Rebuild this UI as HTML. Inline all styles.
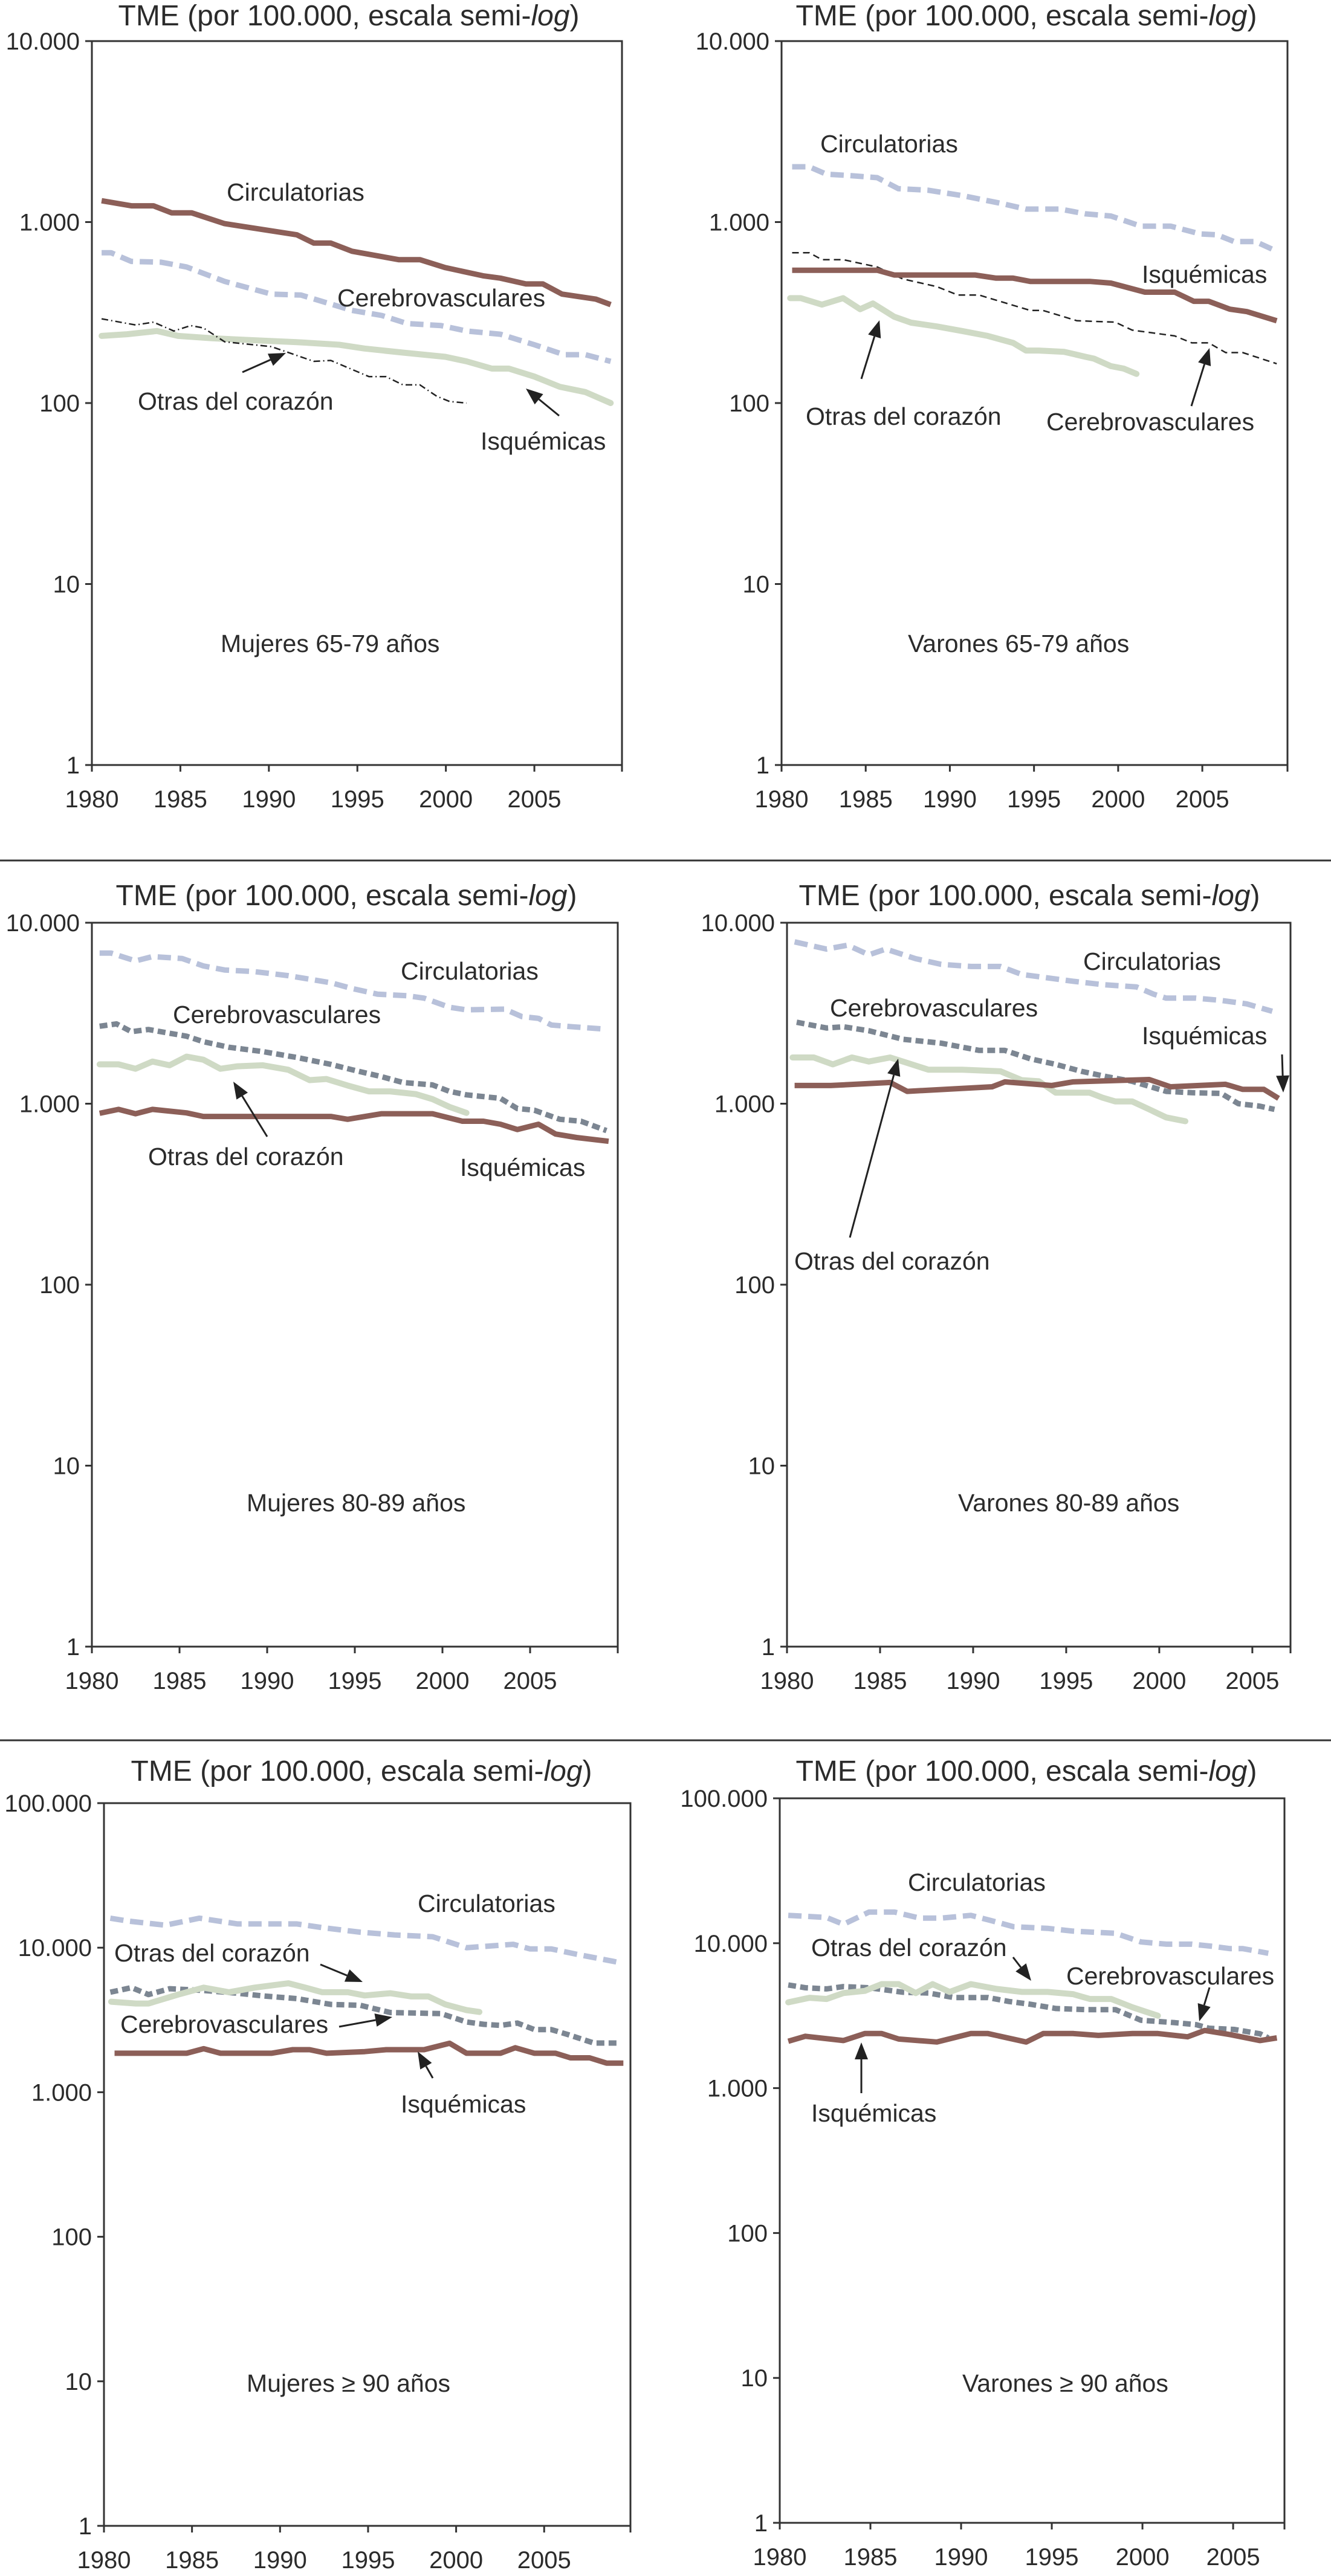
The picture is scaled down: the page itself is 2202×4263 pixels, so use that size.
<!DOCTYPE html>
<html><head><meta charset="utf-8"><style>
html,body{margin:0;padding:0;background:#fff;}
svg{display:block;}
text{font-family:"Liberation Sans",sans-serif;fill:#2b2b2b;}
</style></head><body>
<svg id="fig" width="2202" height="4263" viewBox="0 0 2202 4263" xmlns="http://www.w3.org/2000/svg">
<defs><marker id="ah" viewBox="0 0 10 10" refX="9" refY="5" markerWidth="7" markerHeight="7" orient="auto" markerUnits="userSpaceOnUse"></marker></defs>
<line x1="0" y1="1424" x2="2202" y2="1424" stroke="#333" stroke-width="3"/>
<line x1="0" y1="2880" x2="2202" y2="2880" stroke="#333" stroke-width="3"/>
</svg>
<script>
// ---- Data (years and rates per 100.000) ----
// Panel A: Mujeres 65-79
const aCircYears=[1980.55,1982.23,1983.48,1984.5,1985.63,1987.5,1991.58,1992.54,1993.5,1994.7,1997.33,1998.53,1999.97,2002.1,2003.08,2004.52,2005.48,2006.56,2008.48,2009.31];
const aCircVals=[1312,1230,1230,1125,1125,980,850,765,765,690,620,620,560,505,490,455,455,400,375,350];
const aCereYears=[1980.55,1981.08,1982.23,1983.91,1985.35,1987.5,1990.14,1991.82,1994.69,1996.37,1997.81,1999.73,2001.17,2003.08,2005.0,2006.68,2007.88,2009.31];
const aCereVals=[677,677,606,600,565,470,400,395,325,305,275,268,250,240,210,185,185,170];
const aIsqYears=[1980.55,1981.99,1983.67,1984.87,1986.78,1990.14,1991.58,1993.97,1995.41,1997.57,1999.97,2001.17,2002.6,2003.56,2005.0,2006.44,2007.88,2009.31];
const aIsqVals=[235,240,250,235,228,220,217,210,200,190,180,170,155,155,140,123,115,100];
const aOtrasYears=[1980.55,1982.47,1983.48,1984.63,1985.58,1986.3,1987.5,1990.14,1992.54,1993.5,1995.65,1996.61,1997.57,1998.53,1999.49,2000.21,2001.17];
const aOtrasVals=[292,270,280,250,268,260,218,205,170,172,140,140,126,126,109,102,100];
// Panel B: Varones 65-79
const bCircYears=[1980.63,1981.64,1982.65,1983.91,1985.68,1986.94,1988.71,1990.73,1993.01,1994.52,1996.54,1998.06,1999.57,2001.34,2003.11,2004.87,2005.88,2006.89,2008.16,2009.42];
const bCircVals=[2020,2020,1840,1810,1760,1530,1500,1400,1270,1180,1180,1110,1080,950,950,860,850,780,780,690];
const bIsqYears=[1980.63,1985.68,1986.69,1991.49,1992.75,1993.76,1994.77,1998.31,1999.57,2001.59,2003.36,2004.49,2005.38,2006.64,2007.65,2009.42];
const bIsqVals=[542,542,510,510,490,490,470,470,460,410,410,365,365,330,320,285];
const bCereYears=[1980.63,1981.64,1982.4,1983.66,1985.68,1987.2,1989.22,1990.48,1991.74,1994.77,1995.53,1997.55,1999.82,2000.83,2003.36,2004.37,2005.38,2006.39,2007.4,2009.42];
const bCereVals=[677,677,620,620,565,485,440,395,395,325,325,285,280,253,235,215,215,190,190,165];
const bOtrasYears=[1980.51,1981.14,1982.4,1983.66,1984.67,1985.43,1986.69,1987.7,1989.22,1990.73,1992.25,1993.76,1994.52,1995.28,1996.79,1998.06,1998.56,1999.57,2000.33,2001.09];
const bOtrasVals=[380,380,350,380,330,355,300,278,265,250,235,215,195,195,192,180,176,160,155,145];
// Panel C: Mujeres 80-89
const cCircYears=[1980.44,1981.09,1982.49,1983.46,1985.15,1986.36,1987.57,1989.27,1991.2,1993.63,1994.84,1996.29,1997.98,1998.95,2000.4,2001.37,2003.55,2004.52,2005.48,2006.21,2007.42,2009.11];
const cCircVals=[6800,6800,6150,6500,6340,5770,5480,5370,5100,4660,4330,4030,3950,3830,3410,3300,3330,3030,2960,2720,2660,2590];
const cCereYears=[1980.44,1981.4,1982.25,1983.22,1985.4,1986.36,1987.82,1989.75,1991.69,1993.63,1994.84,1996.53,1997.74,1999.43,2000.4,2001.37,2003.31,2004.27,2005.24,2006.69,2007.9,2009.36];
const cCereVals=[2680,2760,2500,2570,2360,2200,2050,1940,1800,1650,1540,1410,1310,1270,1170,1120,1070,940,920,820,800,710];
const cOtrasYears=[1980.44,1981.52,1982.49,1983.46,1984.43,1985.4,1986.36,1987.33,1988.3,1989.75,1991.2,1992.42,1993.38,1994.59,1995.8,1997.01,1998.47,1999.43,2000.4,2001.37];
const cOtrasVals=[1650,1650,1560,1710,1630,1820,1750,1560,1610,1630,1540,1350,1370,1260,1170,1170,1130,1060,960,890];
const cIsqYears=[1980.44,1981.52,1982.49,1983.46,1985.4,1986.36,1993.63,1994.59,1996.53,1999.43,2001.13,2002.34,2003.31,2004.27,2005.48,2006.45,2007.66,2009.48];
const cIsqVals=[885,930,880,930,890,850,850,820,880,880,800,800,770,720,770,680,650,620];
// Panel D: Varones 80-89
const dCircYears=[1980.41,1982.12,1983.26,1984.4,1985.31,1986.91,1988.28,1989.88,1991.47,1992.61,1993.98,1995.35,1996.95,1998.77,1999.69,2000.37,2001.97,2003.33,2004.7,2006.07];
const dCircVals=[7840,7150,7510,6650,7150,6330,5890,5730,5730,5180,4960,4750,4550,4420,4030,3830,3830,3720,3560,3240];
const dCereYears=[1980.52,1982.12,1983.03,1984.4,1986.23,1988.28,1990.33,1991.7,1993.07,1994.44,1995.81,1997.18,1998.54,2000.37,2001.74,2003.33,2004.25,2005.39,2006.19];
const dCereVals=[2820,2620,2660,2530,2270,2160,1970,1970,1770,1650,1510,1410,1330,1170,1150,1140,1000,970,930];
const dOtrasYears=[1980.3,1981.44,1982.46,1983.49,1984.4,1985.54,1986.46,1987.6,1989.42,1991.47,1992.61,1993.53,1994.44,1996.26,1996.95,1997.63,1998.54,1999.46,2000.37,2001.4];
const dOtrasVals=[1800,1800,1650,1800,1710,1800,1680,1540,1540,1510,1350,1330,1150,1150,1080,1030,1030,930,840,800];
const dIsqYears=[1980.41,1982.35,1985.54,1986.46,1991.02,1991.7,1994.21,1995.35,1999.46,2000.6,2003.56,2004.48,2005.62,2006.41];
const dIsqVals=[1260,1260,1310,1170,1240,1320,1260,1320,1360,1240,1280,1200,1200,1070];
// Panel E: Mujeres >= 90
const eCircYears=[1980.36,1981.32,1983.49,1985.42,1987.59,1989.75,1990.96,1992.4,1994.57,1996.5,1998.67,1999.63,2000.59,2003.24,2004.2,2005.41,2006.85,2009.26];
const eCircVals=[16000,15300,14300,16000,14600,14600,14600,13760,12800,12250,11900,10900,10000,10550,9800,9800,9000,7900];
const eCereYears=[1980.36,1981.57,1982.53,1983.73,1985.66,1987.59,1989.03,1990.96,1992.89,1994.57,1996.26,1999.15,2000.59,2001.56,2002.52,2003.48,2004.45,2005.41,2006.37,2007.82,2009.26];
const eCereVals=[4920,5290,4740,5200,5060,4840,4640,4440,4050,3990,3560,3500,3060,2950,2900,3010,2710,2710,2500,2190,2190];
const eOtrasYears=[1980.41,1981.81,1982.53,1984.21,1985.66,1987.1,1988.55,1990.48,1991.44,1992.4,1993.85,1994.81,1996.26,1997.46,1998.42,1999.39,2000.59,2001.32];
const eOtrasVals=[4230,4110,4110,4740,5290,4920,5290,5670,5290,4920,4920,4670,4840,4600,4600,4050,3700,3590];
const eIsqYears=[1980.6,1984.7,1985.66,1986.62,1989.51,1990.72,1991.68,1992.64,1994.81,1996.02,1998.18,1999.63,2000.59,2002.52,2003.36,2004.45,2005.65,2006.49,2007.58,2008.54,2009.5];
const eIsqVals=[1860,1860,2000,1860,1860,1970,1970,1860,1910,1970,1970,2180,1860,1860,2030,1860,1860,1730,1730,1590,1590];
// Panel F: Varones >= 90
const fCircYears=[1980.47,1982.58,1983.51,1984.92,1986.33,1987.73,1988.9,1990.54,1991.72,1992.89,1994.76,1996.17,1998.51,1999.92,2001.32,2002.73,2003.9,2004.84,2005.54,2006.94];
const fCircVals=[15570,15050,13500,16400,16400,14900,14900,15570,14250,13000,12660,12120,11700,10200,9850,9850,9500,9170,9170,8530];
const fCereYears=[1980.47,1981.41,1982.58,1983.51,1984.92,1986.79,1988.2,1989.61,1991.48,1992.65,1993.82,1995.23,1996.87,1998.51,1999.92,2001.79,2002.96,2003.66,2005.07,2006.48,2006.94];
const fCereVals=[5150,4930,4840,5020,4930,4590,4530,4220,4220,3960,3790,3540,3480,3480,2940,2830,2740,2590,2540,2370,2220];
const fOtrasYears=[1980.47,1981.64,1982.58,1983.51,1984.69,1985.62,1986.56,1987.5,1988.43,1989.37,1990.54,1991.95,1993.36,1994.76,1996.17,1997.1,1998.28,1999.45,2000.85];
const fOtrasVals=[3910,4200,4120,4530,4690,5220,5220,4530,5220,4610,5220,4840,4610,4610,4450,4120,4120,3610,3160];
const fIsqYears=[1980.47,1981.41,1983.51,1984.69,1985.62,1986.56,1988.67,1990.54,1991.48,1993.59,1994.53,1996.17,1997.57,1999.45,2000.85,2002.49,2003.43,2004.84,2006.48,2007.41];
const fIsqVals=[2105,2280,2130,2380,2380,2180,2080,2380,2380,2080,2380,2380,2310,2380,2380,2260,2500,2340,2130,2220];

const xTickYears=[1980,1985,1990,1995,2000,2005];
const yTicks4=[1,10,100,1000,10000];
const yTickLabels4=["1","10","100","1.000","10.000"];
const yTicks5=[1,10,100,1000,10000,100000];
const yTickLabels5=["1","10","100","1.000","10.000","100.000"];

const NS="http://www.w3.org/2000/svg";
const svg=document.getElementById('fig');
const STY={
  brown:{stroke:"#8c5f58",w:9,dash:null,cap:"butt"},
  blue:{stroke:"#b8c1da",w:9,dash:"22 11",cap:"butt"},
  green:{stroke:"#cfdac5",w:10,dash:null,cap:"round"},
  gray:{stroke:"#7c8692",w:9,dash:"13 7",cap:"butt"},
  blackdash:{stroke:"#222",w:2.5,dash:"11 7",cap:"butt"},
  dashdot:{stroke:"#222",w:2.5,dash:"11 5 2 5",cap:"butt"}
};
function mk(tag,attrs,parent){const e=document.createElementNS(NS,tag);for(const k in attrs)e.setAttribute(k,attrs[k]);(parent||svg).appendChild(e);return e;}
function txt(parent,x,y,s,size,anchor,name){const t=mk('text',{x:x,y:y,'font-size':size,'text-anchor':anchor||'start'},parent);t.textContent=s;


return t;}

const panels=[
 {id:"a",g:{L:152,R:1029,T:68,B:1266,x1:2009.95,top:4},titleX:577,titleY:42,
  series:[["green",aIsqYears,aIsqVals,"isquemicas"],["dashdot",aOtrasYears,aOtrasVals,"otras"],["blue",aCereYears,aCereVals,"cerebrovasculares"],["brown",aCircYears,aCircVals,"circulatorias"]],
  labels:[["Circulatorias",375,332],["Cerebrovasculares",558,507],["Otras del corazón",228,678],["Isquémicas",795,744],["Mujeres 65-79 años",365,1079]],
  arrows:[[401,616,473,584],[925,688,870,643]]},
 {id:"b",g:{L:1293,R:2130,T:68,B:1266,x1:2010.06,top:4},titleX:1698,titleY:42,
  series:[["green",bOtrasYears,bOtrasVals,"otras"],["blackdash",bCereYears,bCereVals,"cerebrovasculares"],["brown",bIsqYears,bIsqVals,"isquemicas"],["blue",bCircYears,bCircVals,"circulatorias"]],
  labels:[["Circulatorias",1357,252],["Isquémicas",1889,468],["Otras del corazón",1333,703],["Cerebrovasculares",1731,712],["Varones 65-79 años",1502,1079]],
  arrows:[[1425,627,1455,530],[1971,672,2001,576]]},
 {id:"c",g:{L:152,R:1022,T:1527,B:2725,x1:2010,top:4},titleX:573,titleY:1498,
  series:[["green",cOtrasYears,cOtrasVals,"otras"],["brown",cIsqYears,cIsqVals,"isquemicas"],["gray",cCereYears,cCereVals,"cerebrovasculares"],["blue",cCircYears,cCircVals,"circulatorias"]],
  labels:[["Circulatorias",663,1621],["Cerebrovasculares",286,1693],["Otras del corazón",245,1928],["Isquémicas",761,1946],["Mujeres 80-89 años",408,2501]],
  arrows:[[442,1881,386,1790]]},
 {id:"d",g:{L:1302,R:2135,T:1527,B:2725,x1:2007.05,top:4},titleX:1703,titleY:1498,
  series:[["green",dOtrasYears,dOtrasVals,"otras"],["gray",dCereYears,dCereVals,"cerebrovasculares"],["brown",dIsqYears,dIsqVals,"isquemicas"],["blue",dCircYears,dCircVals,"circulatorias"]],
  labels:[["Circulatorias",1792,1605],["Cerebrovasculares",1373,1682],["Isquémicas",1889,1728],["Otras del corazón",1314,2101],["Varones 80-89 años",1585,2501]],
  arrows:[[1406,2048,1486,1752],[2121,1745,2123,1808]]},
 {id:"e",g:{L:172,R:1043,T:2984,B:4180,x1:2009.9,top:5},titleX:598,titleY:2947,
  series:[["gray",eCereYears,eCereVals,"cerebrovasculares"],["green",eOtrasYears,eOtrasVals,"otras"],["brown",eIsqYears,eIsqVals,"isquemicas"],["blue",eCircYears,eCircVals,"circulatorias"]],
  labels:[["Circulatorias",691,3164],["Otras del corazón",189,3246],["Cerebrovasculares",199,3364],["Isquémicas",663,3496],["Mujeres ≥ 90 años",408,3958]],
  arrows:[[530,3251,600,3280],[561,3354,649,3338],[716,3439,691,3395]]},
 {id:"f",g:{L:1290,R:2125,T:2976,B:4175,x1:2007.83,top:5},titleX:1698,titleY:2947,
  series:[["gray",fCereYears,fCereVals,"cerebrovasculares"],["green",fOtrasYears,fOtrasVals,"otras"],["brown",fIsqYears,fIsqVals,"isquemicas"],["blue",fCircYears,fCircVals,"circulatorias"]],
  labels:[["Circulatorias",1502,3129],["Otras del corazón",1342,3237],["Cerebrovasculares",1764,3284],["Isquémicas",1342,3511],["Varones ≥ 90 años",1592,3958]],
  arrows:[[1676,3239,1706,3278],[2001,3289,1984,3345],[1425,3464,1425,3380]]}
];

function drawArrow(parent,x1,y1,x2,y2){
  const dx=x2-x1,dy=y2-y1,len=Math.hypot(dx,dy),ux=dx/len,uy=dy/len;
  const hl=28,hw=11;
  const bx=x2-ux*hl,by=y2-uy*hl;
  const l=mk('line',{x1:x1,y1:y1,x2:bx,y2:by,stroke:"#222","stroke-width":3},parent);
  
  
  const p=mk('polygon',{points:`${x2},${y2} ${bx-uy*hw},${by+ux*hw} ${bx+uy*hw},${by-ux*hw}`,fill:"#222"},parent);
  
  
}

panels.forEach(P=>{
  const g=P.g;
  const grp=mk('g',{});
  
  
  const xs=y=>g.L+(y-1980)/(g.x1-1980)*(g.R-g.L);
  const ys=v=>g.B-Math.log10(v)/g.top*(g.B-g.T);
  // title
  const t=mk('text',{x:P.titleX,y:P.titleY,'font-size':48,'text-anchor':'middle'},grp);
  
  
  t.appendChild(document.createTextNode("TME (por 100.000, escala semi-"));
  const ts=mk('tspan',{'font-style':'italic'},t);ts.textContent="log";
  t.appendChild(document.createTextNode(")"));
  // frame
  const fr=mk('rect',{x:g.L,y:g.T,width:g.R-g.L,height:g.B-g.T,fill:"none",stroke:"#333","stroke-width":3},grp);
  
  
  // y ticks
  const ticks=g.top===5?yTicks5:yTicks4, tl=g.top===5?yTickLabels5:yTickLabels4;
  ticks.forEach((v,i)=>{
    const y=ys(v);
    const l=mk('line',{x1:g.L-11,y1:y,x2:g.L,y2:y,stroke:"#333","stroke-width":3},grp);
    
    
    txt(grp,g.L-20,y+14,tl[i],40,'end','y-tick-label');
  });
  // x ticks
  xTickYears.forEach(yr=>{
    const x=xs(yr);
    const l=mk('line',{x1:x,y1:g.B,x2:x,y2:g.B+11,stroke:"#333","stroke-width":3},grp);
    
    
    txt(grp,x,g.B+70,String(yr),40,'middle','x-tick-label');
  });
  const re=mk('line',{x1:g.R,y1:g.B,x2:g.R,y2:g.B+11,stroke:"#333","stroke-width":3},grp);
  
  
  // series
  P.series.forEach(s=>{
    const st=STY[s[0]],yrs=s[1],vals=s[2];
    const d=yrs.map((yr,i)=>(i?'L':'M')+xs(yr).toFixed(1)+','+ys(vals[i]).toFixed(1)).join(' ');
    const a={d:d,fill:"none",stroke:st.stroke,"stroke-width":st.w,"stroke-linejoin":"round","stroke-linecap":st.cap};
    if(st.dash)a["stroke-dasharray"]=st.dash;
    const p=mk('path',a,grp);
    
    
  });
  P.labels.forEach(l=>txt(grp,l[1],l[2],l[0],41,'start','series-label'));
  P.arrows.forEach(a=>drawArrow(grp,a[0],a[1],a[2],a[3]));
});
</script>
</body></html>
